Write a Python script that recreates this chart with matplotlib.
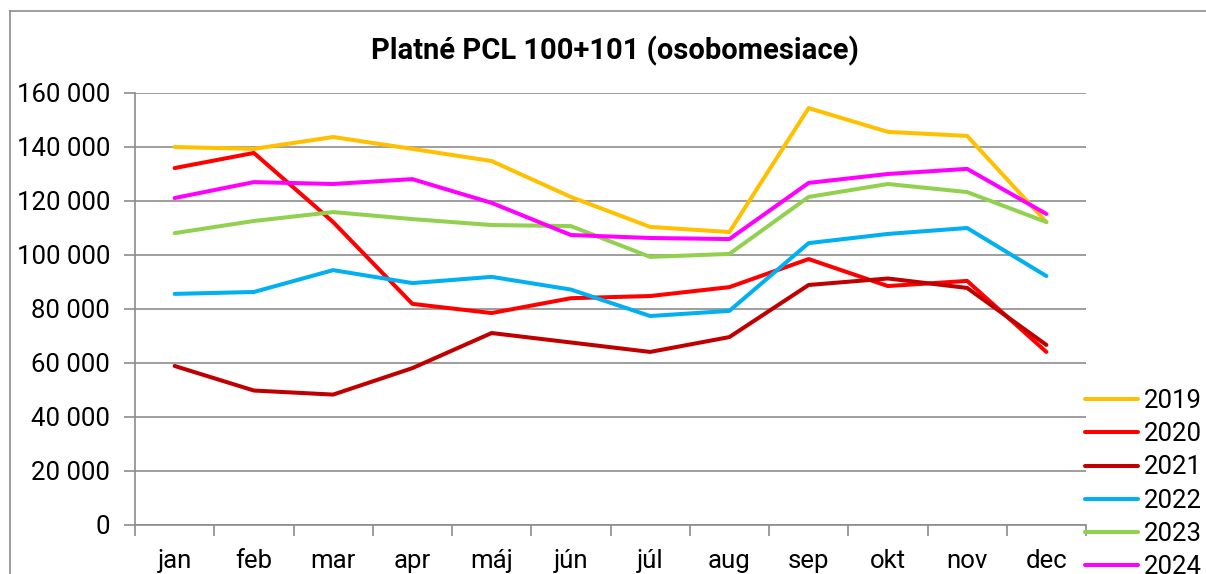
import matplotlib
matplotlib.use("Agg")
import matplotlib.pyplot as plt
from matplotlib.ticker import FuncFormatter, FixedLocator
from matplotlib.lines import Line2D

plt.rcParams['font.family'] = ['Roboto', 'DejaVu Sans']

months = ["jan", "feb", "mar", "apr", "máj", "jún", "júl", "aug", "sep", "okt", "nov", "dec"]
years = ["2019", "2020", "2021", "2022", "2023", "2024"]
colors = ["#FFC000", "#FF0000", "#C00000", "#00B0F0", "#92D050", "#FF00FF"]

y2019 = [140000, 139300, 143700, 139300, 134800, 121500, 110400, 108500, 154400, 145600, 144100, 112200]
y2020 = [132200, 137800, 112200, 81900, 78500, 84000, 84800, 88100, 98500, 88500, 90400, 64100]
y2021 = [58900, 49800, 48300, 58100, 71100, 67600, 64100, 69600, 88900, 91300, 87800, 66700]
y2022 = [85600, 86300, 94400, 89600, 91900, 87200, 77400, 79300, 104400, 107800, 110000, 92200]
y2023 = [108100, 112600, 115900, 113300, 111100, 110700, 99300, 100400, 121500, 126300, 123300, 112200]
y2024 = [121100, 127000, 126300, 128100, 119300, 107400, 106300, 105900, 126700, 130000, 131900, 115200]
series = [y2019, y2020, y2021, y2022, y2023, y2024]

fig = plt.figure(figsize=(12.06, 5.74), dpi=100)
ax = fig.add_axes([135/1206, 1-525/574, (1086-135)/1206, (525-93)/574])

x = list(range(len(months)))
for yr, vals, c in zip(years, series, colors):
    ax.plot(x, vals, color=c, lw=2.9, label=yr, solid_capstyle='round', zorder=3)

grid_c = "#8c8c8c"
ax.set_ylim(0, 160000)
ax.set_xlim(-0.5, 11.5)
ax.set_yticks(range(0, 160001, 20000))
ax.yaxis.set_major_formatter(FuncFormatter(lambda v, p: "{:,}".format(int(v)).replace(",", " ")))
ax.grid(axis='y', color=grid_c, lw=1.2, zorder=1)
ax.set_xticks(x)
ax.set_xticklabels(months)
ax.xaxis.set_minor_locator(FixedLocator([i - 0.5 for i in range(13)]))
ax.tick_params(axis='x', which='major', length=0, pad=17.5, labelsize=18.5)
ax.tick_params(axis='x', which='minor', length=8, color=grid_c, width=1.2)
ax.tick_params(axis='y', length=8, color=grid_c, width=1.2, labelsize=18.5, pad=10)
for s in ['top', 'right']:
    ax.spines[s].set_visible(False)
for s in ['left', 'bottom']:
    ax.spines[s].set_color(grid_c)
    ax.spines[s].set_linewidth(1.2)

fig.text(615/1206, 1-51/574, "Platné PCL 100+101 (osobomesiace)", ha='center', va='center',
         fontsize=21, fontweight='bold')

ax.legend(loc='upper left', bbox_to_anchor=(1085/1206, 1-389/574), bbox_transform=fig.transFigure,
          frameon=False, fontsize=18.5, handlelength=2.05, handletextpad=0.25, labelspacing=0.36,
          borderpad=0, borderaxespad=0)

# outer chart frame
fig.add_artist(Line2D([10/1206, 10/1206], [0, 1-11/574], transform=fig.transFigure, color=grid_c, lw=1.2))
fig.add_artist(Line2D([10/1206, 1], [1-11/574, 1-11/574], transform=fig.transFigure, color=grid_c, lw=1.2))

fig.savefig("out.png", dpi=100)
